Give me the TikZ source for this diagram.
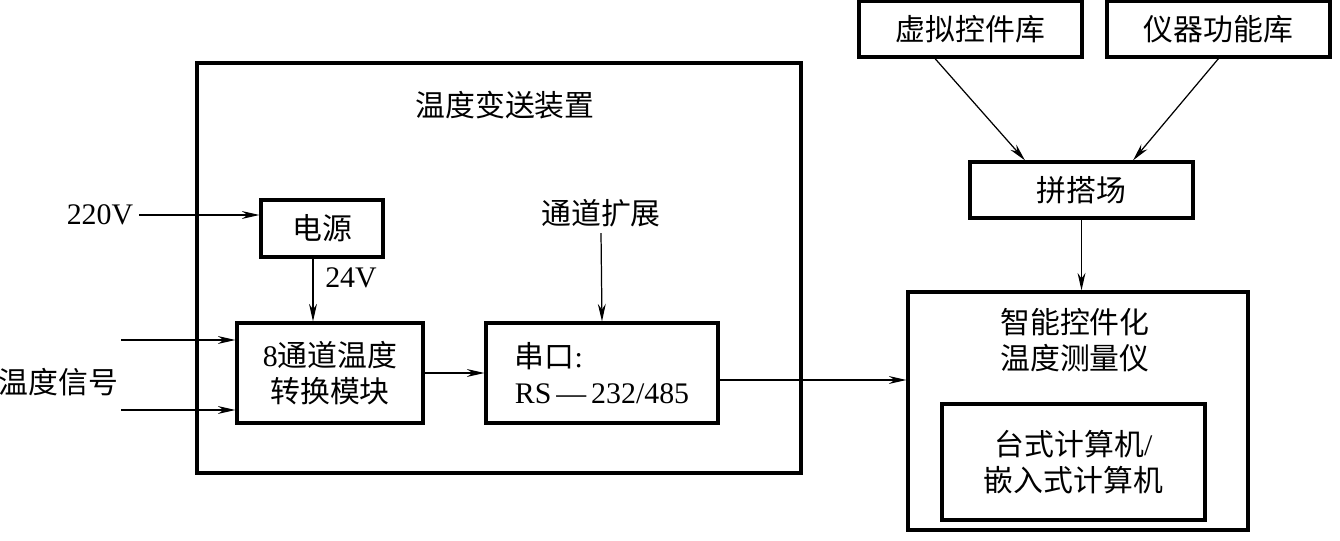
\documentclass[tikz,border=0pt]{standalone}
\usepackage{fontspec}
\setmainfont{Liberation Serif}
\newfontfamily\cjk{Noto Sans CJK SC}
\usetikzlibrary{arrows.meta}

\begin{document}
\begin{tikzpicture}[
  every node/.style={font=\fontsize{17}{20.5}\selectfont},
  blk/.style={draw,line width=1.8pt,align=center},
  arr/.style={-{Stealth[length=10pt,width=4.5pt]},line width=0.7pt}]
\useasboundingbox (0,0) rectangle (26.8,10.8);

% temperature transmitter
\node[blk,minimum width=12.08cm,minimum height=8.2cm] (dev) at (9.98,5.44) {};
\node (devtitle) at (10.1,8.7) {\cjk 温度变送装置};

\node[blk,minimum width=2.44cm,minimum height=1.14cm] (power) at (6.44,6.23) {\cjk 电源};
\node (v220) at (2.0,6.5) {220V};
\draw[arr] (v220) -- (v220 -| power.west);

\node[blk,minimum width=3.72cm,minimum height=2cm] (module) at (6.6,3.34) {8{\cjk 通道温度}\\{\cjk 转换模块}};
\draw[arr] ([xshift=-0.18cm]power.south) -- ([xshift=-0.18cm]power.south |- module.north);
\node (v24) at (7.02,5.24) {24V};

\node (tsig) at (1.17,3.16) {\cjk 温度信号};
\coordinate (in1) at (2.42,4.0);
\coordinate (in2) at (2.42,2.6);
\draw[arr] (in1) -- (in1 -| module.west);
\draw[arr] (in2) -- (in2 -| module.west);

\node[blk,align=left,minimum width=4.64cm,minimum height=2cm] (serial) at (12.04,3.34) {{\cjk 串口}:\\RS\,---\,232/485};
\draw[arr] (module.east) -- (serial.west);

\node (ext) at (12.02,6.54) {\cjk 通道扩展};
\draw[arr] (ext.south) -- (serial.north);

% instrument side
\node[blk,minimum width=6.8cm,minimum height=4.76cm] (inst) at (21.56,2.58) {};
\node[align=center] (insttitle) at (21.5,3.99) {\cjk 智能控件化\\\cjk 温度测量仪};
\node[blk,minimum width=5.26cm,minimum height=2.32cm] (pc) at (21.47,1.56) {{\cjk 台式计算机}/\\{\cjk 嵌入式计算机}};

\draw[arr] ([yshift=-0.14cm]serial.east) -- ([yshift=-0.14cm]serial.east -| inst.west);

\node[blk,minimum width=4.46cm,minimum height=1.12cm] (lib1) at (19.41,10.22) {\cjk 虚拟控件库};
\node[blk,minimum width=4.46cm,minimum height=1.12cm] (lib2) at (24.37,10.22) {\cjk 仪器功能库};
\node[blk,minimum width=4.46cm,minimum height=1.12cm] (place) at (21.63,7.0) {\cjk 拼搭场};

\draw[arr] ([xshift=-0.71cm]lib1.south) -- ([xshift=-1.13cm]place.north);
\draw[arr] (lib2.south) -- ([xshift=1.03cm]place.north);
\draw[arr] (place.south) -- (place.south |- inst.north);
\end{tikzpicture}
\end{document}
